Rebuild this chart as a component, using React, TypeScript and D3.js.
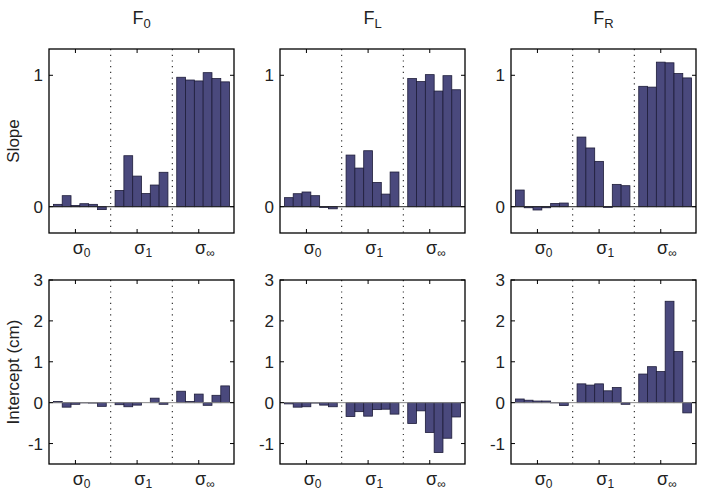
import React from "react";
import * as d3 from "d3";

// subscripts of the column titles (F0, FL, FR) and of the bar groups (σ0, σ1, σ∞)
const columnSubs = ["0", "L", "R"];
const groupSubs = ["0", "1", "\u221E"];

// slope, 6 bars per group (σ0, σ1, σ∞)
const slopeF0 = [0.018, 0.084, 0.01, 0.023, 0.018, -0.022, 0.124, 0.388, 0.233, 0.1, 0.165, 0.262, 0.985, 0.964, 0.957, 1.02, 0.975, 0.95];
const slopeFL = [0.069, 0.099, 0.112, 0.084, -0.006, -0.016, 0.393, 0.294, 0.426, 0.185, 0.096, 0.264, 0.975, 0.952, 1.005, 0.88, 0.997, 0.89];
const slopeFR = [0.127, -0.008, -0.025, -0.008, 0.025, 0.028, 0.53, 0.447, 0.345, -0.005, 0.17, 0.16, 0.916, 0.91, 1.1, 1.095, 1.013, 0.98];

// intercept (cm)
const interceptF0 = [0.03, -0.11, -0.04, -0.005, -0.01, -0.09, -0.05, -0.1, -0.06, 0.0, 0.11, -0.04, 0.28, 0.03, 0.21, -0.065, 0.18, 0.41];
const interceptFL = [-0.03, -0.11, -0.1, -0.01, -0.06, -0.1, -0.34, -0.22, -0.33, -0.17, -0.16, -0.28, -0.51, -0.2, -0.73, -1.22, -0.87, -0.35];
const interceptFR = [0.09, 0.06, 0.04, 0.04, -0.005, -0.07, 0.46, 0.43, 0.46, 0.29, 0.37, -0.04, 0.7, 0.88, 0.76, 2.48, 1.25, -0.25];

const slopeTicks = [0, 1];
const interceptTicks = [-1, 0, 1, 2, 3];

const rows = [
  { label: "Slope", series: [slopeF0, slopeFL, slopeFR], domain: [-0.2, 1.2], ticks: slopeTicks, base: "#222" },
  { label: "Intercept (cm)", series: [interceptF0, interceptFL, interceptFR], domain: [-1.5, 3], ticks: interceptTicks, base: "#888" },
];

const W = 701;
const H = 493;
const panelW = 185;
const panelH = 184;
const lefts = [49, 280, 511];
const tops = [49, 280];
const font = "'Liberation Sans', Arial, Helvetica, sans-serif";

const barFill = "#4a497d";
const barEdge = "#1e1d3a";

function Panel({ data, domain, ticks, base, x0, y0 }) {
  const x = d3.scaleLinear().domain([0, 21]).range([0, panelW]);
  const y = d3.scaleLinear().domain(domain).range([panelH, 0]);
  const pos = (i) => Math.floor(i / 6) * 7 + (i % 6) + 1;
  const tk = 4;
  return (
    <g transform={`translate(${x0},${y0})`}>
      {data.map((v, i) => (
        <rect
          key={i}
          x={x(pos(i) - 0.5)}
          width={x(1) - x(0)}
          y={y(Math.max(0, v))}
          height={Math.abs(y(v) - y(0))}
          fill={barFill}
          stroke={barEdge}
          strokeWidth={0.8}
        />
      ))}
      <line x1={0} x2={panelW} y1={y(0)} y2={y(0)} stroke={base} strokeWidth={1} />
      {[7, 14].map((d) => (
        <line key={d} x1={x(d)} x2={x(d)} y1={0} y2={panelH} stroke="#222" strokeWidth={1.1} strokeDasharray="1.2,4.5" />
      ))}
      {ticks.map((t) => (
        <g key={t}>
          <line x1={0} x2={tk} y1={y(t)} y2={y(t)} stroke="#000" />
          <line x1={panelW - tk} x2={panelW} y1={y(t)} y2={y(t)} stroke="#000" />
          <text x={-6} y={y(t)} dy="0.36em" textAnchor="end" fontSize={17} fontFamily={font} fill="#222">
            {t}
          </text>
        </g>
      ))}
      {[3, 10, 17].map((t, g) => (
        <g key={t}>
          <line x1={x(t)} x2={x(t)} y1={0} y2={tk} stroke="#000" />
          <line x1={x(t)} x2={x(t)} y1={panelH - tk} y2={panelH} stroke="#000" />
          <text x={x(t + 0.7)} y={panelH + 21} textAnchor="middle" fontSize={18} fontFamily={font} fill="#222">
            {"\u03C3"}
            <tspan fontSize={12} dy={3}>{groupSubs[g]}</tspan>
          </text>
        </g>
      ))}
      <rect x={0} y={0} width={panelW} height={panelH} fill="none" stroke="#000" strokeWidth={1.3} />
    </g>
  );
}

export default function App() {
  return (
    <svg width={W} height={H} style={{ position: "absolute", left: 0, top: 0, background: "#fff" }}>
      {columnSubs.map((s, c) => (
        <text key={s} x={lefts[c] + panelW / 2} y={24} textAnchor="middle" fontSize={18} fontFamily={font} fill="#222">
          F<tspan fontSize={13} dy={4}>{s}</tspan>
        </text>
      ))}
      {rows.map((r, ri) => (
        <g key={r.label}>
          <text
            transform={`translate(19,${tops[ri] + panelH / 2}) rotate(-90)`}
            textAnchor="middle"
            fontSize={17}
            fontFamily={font}
            fill="#222"
          >
            {r.label}
          </text>
          {r.series.map((d, c) => (
            <Panel key={c} data={d} domain={r.domain} ticks={r.ticks} base={r.base} x0={lefts[c]} y0={tops[ri]} />
          ))}
        </g>
      ))}
    </svg>
  );
}
